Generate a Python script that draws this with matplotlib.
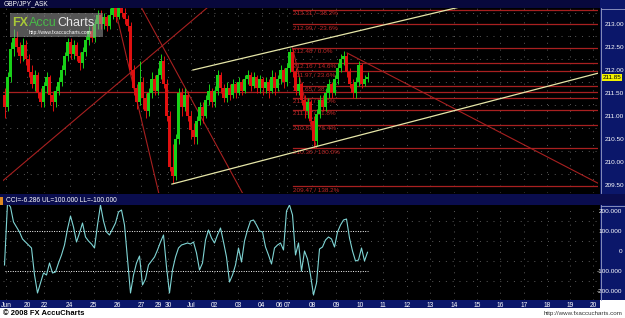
import matplotlib
matplotlib.use("Agg")
import matplotlib.pyplot as plt
import numpy as np
from matplotlib.patches import Rectangle

W, H = 625, 318

# ---------------- data ----------------
opens = [211.45, 211.2, 211.85, 212.45, 212.7, 212.5, 212.3, 212.55, 212.25, 211.95,
         211.7, 211.9, 211.5, 211.3, 211.65, 211.85, 211.45, 211.3, 211.55, 211.75,
         212.0, 212.3, 212.6, 212.35, 212.55, 212.3, 212.15, 212.4, 212.65, 212.85,
         212.7, 213.0, 213.2, 213.0, 213.15, 212.95, 213.2, 213.35, 213.15, 213.4,
         213.25, 213.1, 212.95, 212.0, 211.6, 211.3, 211.75, 211.4, 211.1, 211.5,
         211.8, 211.55, 211.9, 212.2, 211.7, 211.0, 209.9, 209.7, 210.5, 211.5,
         211.2, 211.45, 211.0, 210.7, 210.55, 210.9, 211.2, 211.0, 211.35, 211.55,
         211.3, 211.55, 211.9, 211.6, 211.4, 211.6, 211.45, 211.7, 211.5, 211.75,
         211.55, 211.8, 211.9, 211.65, 211.85, 211.6, 211.8, 211.6, 211.75, 211.55,
         211.85, 211.6, 211.8, 212.0, 211.75, 212.05, 212.4, 211.95, 211.55, 211.7,
         211.35, 211.1, 211.3, 210.9, 210.45, 211.05, 211.35, 211.2, 211.5, 211.7,
         211.5, 211.8, 212.05, 212.25, 212.3, 211.95, 211.7, 211.5, 211.75, 212.1,
         211.7, 211.8]
closes = [211.2, 211.85, 212.45, 212.7, 212.5, 212.3, 212.55, 212.25, 211.95, 211.7,
          211.9, 211.5, 211.3, 211.65, 211.85, 211.45, 211.3, 211.55, 211.75, 212.0,
          212.3, 212.6, 212.35, 212.55, 212.3, 212.15, 212.4, 212.65, 212.85, 212.7,
          213.0, 213.2, 213.0, 213.15, 212.95, 213.2, 213.35, 213.15, 213.4, 213.25,
          213.1, 212.95, 212.0, 211.6, 211.3, 211.75, 211.4, 211.1, 211.5, 211.8,
          211.55, 211.9, 212.2, 211.7, 211.0, 209.9, 209.7, 210.5, 211.5, 211.2,
          211.45, 211.0, 210.7, 210.55, 210.9, 211.2, 211.0, 211.35, 211.55, 211.3,
          211.55, 211.9, 211.6, 211.4, 211.6, 211.45, 211.7, 211.5, 211.75, 211.55,
          211.8, 211.9, 211.65, 211.85, 211.6, 211.8, 211.6, 211.75, 211.55, 211.85,
          211.6, 211.8, 212.0, 211.75, 212.05, 212.4, 211.95, 211.55, 211.7, 211.35,
          211.1, 211.3, 210.9, 210.45, 211.05, 211.35, 211.2, 211.5, 211.7, 211.5,
          211.8, 212.05, 212.25, 212.3, 211.95, 211.7, 211.5, 211.75, 212.1, 211.7,
          211.8, 211.85]
highs = [211.6, 211.95, 212.6, 212.9, 212.85, 212.6, 212.7, 212.65, 212.35, 212.1,
         212.0, 211.95, 211.6, 211.75, 211.95, 211.9, 211.55, 211.65, 211.85, 212.1,
         212.4, 212.7, 212.7, 212.65, 212.6, 212.4, 212.5, 212.75, 212.95, 212.95,
         213.1, 213.3, 213.3, 213.25, 213.2, 213.35, 213.5, 213.45, 213.5, 213.5,
         213.35, 213.2, 213.05, 212.1, 211.7, 212.2, 211.85, 211.5, 211.6, 211.95,
         211.9, 212.05, 212.35, 212.3, 211.8, 211.1, 210.4, 210.6, 211.6, 211.6,
         211.6, 211.55, 211.1, 210.85, 211.0, 211.3, 211.3, 211.45, 211.7, 211.6,
         211.65, 212.0, 211.95, 211.7, 211.75, 211.7, 211.8, 211.75, 211.85, 211.8,
         211.9, 212.0, 211.95, 211.95, 211.9, 211.9, 211.85, 211.85, 211.8, 212.0,
         211.95, 211.9, 212.1, 212.05, 212.15, 212.48, 212.45, 212.05, 211.85, 211.75,
         211.45, 211.4, 211.35, 211.0, 211.15, 211.45, 211.45, 211.6, 211.8, 211.75,
         211.9, 212.15, 212.35, 212.42, 212.38, 212.05, 211.8, 211.85, 212.2, 212.15,
         211.9, 211.95]
lows = [210.95, 211.1, 211.75, 212.3, 212.4, 212.15, 212.2, 212.1, 211.85, 211.6,
        211.55, 211.4, 211.2, 211.2, 211.5, 211.25, 211.1, 211.2, 211.45, 211.65,
        211.9, 212.2, 212.25, 212.25, 212.2, 212.0, 212.05, 212.3, 212.55, 212.6,
        212.6, 212.9, 212.9, 212.9, 212.85, 212.9, 213.1, 213.05, 213.1, 213.15,
        213.0, 212.85, 211.9, 211.45, 211.15, 211.25, 211.15, 210.95, 211.0, 211.4,
        211.45, 211.45, 211.8, 211.6, 210.9, 209.8, 209.54, 209.6, 210.4, 211.0,
        211.1, 210.9, 210.5, 210.4, 210.4, 210.8, 210.85, 210.95, 211.25, 211.2,
        211.2, 211.45, 211.5, 211.3, 211.3, 211.35, 211.4, 211.4, 211.45, 211.45,
        211.5, 211.7, 211.55, 211.6, 211.5, 211.5, 211.45, 211.5, 211.4, 211.5,
        211.45, 211.55, 211.7, 211.6, 211.65, 211.95, 211.85, 211.45, 211.45, 211.25,
        210.95, 210.95, 210.8, 210.30, 210.35, 210.95, 211.1, 211.1, 211.4, 211.4,
        211.45, 211.7, 211.95, 212.1, 211.85, 211.6, 211.4, 211.4, 211.65, 211.6,
        211.65, 211.75]
cci = [-70, 240, 220, 145, 120, 95, 60, 45, 30, 15,
       -120, -210, -160, -110, -120, -60, -110, -105, -60, -20,
       30, 110, 175, 120, 45, 90, 140, 70, 50, 35,
       15, 130, 230, 150, 95, 80, 110, 140, 195, 205,
       130, -40, -210, -120, -60, -25, -170, -140, -70, -50,
       -30, 5, 45, 80, -80, -210, -95, -30, 15, 30,
       35, 40, 35, 45, -10, -95, -60, 55, 105, 65,
       40, 80, 115, 45, -30, -155, -120, -70, 15, -55,
       50, 105, 150, 155, 130, 100, 95, 20, -20, -65,
       15, 30, 40, 5, 200, 230, 180, -20, 40, -100,
       0, -40, -120, -220, -160, 10, 20, 55, 70, 60,
       20, 95, 130, 155, 160, 65, 0, -50, -45, 15,
       -50, -6.286]

date_labels = ["Jun", "20", "22", "24", "25", "26", "27", "29", "30", "Jul", "02", "03",
               "04", "06", "07", "08", "09", "10", "11", "12", "13", "14", "15", "16",
               "17", "18", "19", "20"]
date_pos = [0.5, 7.5, 13.2, 21.8, 29.8, 37.5, 45.5, 51.2, 54.5, 62.2, 69.8, 77.8,
            85.8, 91.5, 94.2, 102.5, 110.5, 118.5, 126.2, 134.2, 141.8, 149.8, 157.5,
            165.2, 173.2, 180.8, 188.5, 196.2]

price_ticks = [209.5, 210.0, 210.5, 211.0, 211.5, 212.0, 212.5, 213.0]
cci_ticks = [200, 100, 0, -100, -200]
cci_tick_labels = ["200.000", "100.000", "0", "-100.000", "-200.000"]

fib_pct = [-38.2, -23.6, 0.0, 14.6, 23.6, 38.2, 50.0, 61.8, 76.4, 100.0, 138.2]
fib_price = [213.31, 212.99, 212.48, 212.16, 211.97, 211.65, 211.39, 211.13, 210.81, 210.30, 209.47]
fib_anchor_x = [96, 104]
fib_anchor_y = [212.48, 210.30]

support_level = 211.52
red_lines = [((-1.5, 209.54), (67.5, 213.35)),
             ((45.2, 213.41), (80.2, 209.22)),
             ((36.8, 213.35), (51.8, 209.22)),
             ((114.2, 212.37), (197.8, 209.54))]
yellow_lines = [((62.8, 212.00), (151.8, 213.37)),
                ((55.8, 209.52), (197.8, 211.93))]

last_price = "211.85"
cci_label = "CCI=-6.286 UL=100.000 LL=-100.000"
title = "GBP/JPY_ASK"

# ---------------- layout helpers ----------------
X_LEFT, X_RIGHT = -0.5, 197.83          # bar units at plot edges
P_TOP, P_BOT = 213 + 16 / 46, 213 - 169 / 46
C_TOP, C_BOT = 230, -245

FONT = ['Liberation Sans', 'DejaVu Sans']
GRID = '#5a5a5a'
RED = '#a82020'
YEL = '#e6e6a8'

fig = plt.figure(figsize=(W / 100, H / 100), dpi=100)
fig.patch.set_facecolor('black')

bg = fig.add_axes([0, 0, 1, 1])
bg.set_xlim(0, W); bg.set_ylim(H, 0); bg.axis('off'); bg.set_zorder(0)


def rect(ax, x0, y0, x1, y1, c, **kw):
    ax.add_patch(Rectangle((x0, y0), x1 - x0, y1 - y0, facecolor=c, edgecolor='none', **kw))


rect(bg, 0, 0, W, 8, '#08083c')
rect(bg, 600, 0, W, 194, '#0b176a')
rect(bg, 0, 194, W, 205, '#0a0d4e')
rect(bg, 600, 205, W, 300, '#0b176a')
rect(bg, 0, 300, 600, 308, '#0b176a')
rect(bg, 0, 308, W, H, 'white')
rect(bg, 600, 300, W, 308, 'white')
rect(bg, 0, 197, 3, 205, '#e08a20')
bg.plot([600.5, 600.5], [8, 193], color='#9aa0c8', lw=0.6)
bg.plot([600.5, W], [8.5, 8.5], color='#9aa0c8', lw=0.6)
bg.plot([600.5, 600.5], [205, 300], color='#9aa0c8', lw=0.6)
bg.plot([600.5, W], [205.5, 205.5], color='#9aa0c8', lw=0.6)

bg.text(4, 4, title, color='white', fontsize=4.8, va='center', ha='left', family=FONT)
bg.text(6, 200.5, cci_label, color='white', fontsize=4.8, va='center', ha='left', family=FONT)
bg.text(3, 313.5, "\u00a9 2008 FX AccuCharts", color='black', fontsize=5.5, va='center',
        ha='left', family=FONT, fontweight='bold')
bg.text(623, 314, "http://www.fxaccucharts.com", color='#333333', fontsize=4.5, va='center',
        ha='right', family=FONT)

# ---------------- main price panel ----------------
ax = fig.add_axes([3 / W, 1 - 193 / H, 595 / W, 185 / H])
ax.set_zorder(1)
ax.set_facecolor('black')
ax.set_xlim(X_LEFT, X_RIGHT)
ax.set_ylim(P_BOT, P_TOP)
for s in ax.spines.values():
    s.set_visible(False)

for g in np.arange(209.75, 213.3, 0.5):
    ax.axhline(g, color=GRID, lw=0.7, ls=(0, (1, 6)), zorder=0)
for d in date_pos:
    ax.axvline(d, color=GRID, lw=0.7, ls=(0, (1, 6)), zorder=0)

# fibonacci levels
fx0 = fib_anchor_x[0]
for p, pct in zip(fib_price, fib_pct):
    ax.plot([fx0, X_RIGHT], [p, p], color=RED, lw=0.9, zorder=1)
    ax.text(fx0 + 0.3, p - 0.03, f"{p:.2f} / {pct:.1f}%", color='#c02828', fontsize=4.6,
            va='top', ha='left', family=FONT, zorder=1)
ax.plot(fib_anchor_x, fib_anchor_y, color=RED, lw=0.8, zorder=1)
ax.axhline(support_level, color=RED, lw=0.9, zorder=1)

for (a, b) in red_lines:
    ax.plot([a[0], b[0]], [a[1], b[1]], color=RED, lw=0.8, zorder=1)
for (a, b) in yellow_lines:
    ax.plot([a[0], b[0]], [a[1], b[1]], color=YEL, lw=0.9, zorder=3)

# candles
x = np.arange(len(closes))
o = np.array(opens); c = np.array(closes); hi = np.array(highs); lo = np.array(lows)
up = c >= o
cols = np.where(up, '#18d018', '#e01010')
ax.vlines(x, lo, hi, colors=cols, lw=0.7, zorder=2)
body = np.where(np.abs(c - o) < 0.02, 0.02, c - o)
ax.bar(x, body, bottom=o, width=0.7, color=cols, linewidth=0, zorder=2)

ax.yaxis.tick_right()
ax.set_yticks(price_ticks)
ax.set_yticklabels([f"{v:.2f}" for v in price_ticks], family=FONT)
ax.set_xticks(date_pos)
ax.set_xticklabels([])
ax.tick_params(axis='y', colors='white', labelsize=4.6, length=0, pad=4.5)
ax.tick_params(axis='x', length=0)

# ---------------- CCI panel ----------------
axc = fig.add_axes([3 / W, 1 - 300 / H, 595 / W, 95 / H])
axc.set_zorder(1)
axc.set_facecolor('black')
axc.set_xlim(X_LEFT, X_RIGHT)
axc.set_ylim(C_BOT, C_TOP)
for s in axc.spines.values():
    s.set_visible(False)
for g in [150, 50, -50, -150]:
    axc.axhline(g, color=GRID, lw=0.7, ls=(0, (1, 6)), zorder=0)
for d in date_pos:
    axc.axvline(d, color=GRID, lw=0.7, ls=(0, (1, 6)), zorder=0)
axc.hlines([100, -100], x[0], x[-1], colors='white', lw=0.7, linestyles=(0, (1, 1.5)), zorder=1)
axc.plot(x, cci, color='#7fd4d4', lw=0.8, zorder=2)

axc.yaxis.tick_right()
axc.set_yticks(cci_ticks)
axc.set_yticklabels(cci_tick_labels, family=FONT)
for t in axc.get_yticklabels():
    t.set_ha('right')
axc.tick_params(axis='y', colors='white', labelsize=4.6, length=0, pad=17.5)
axc.set_xticks(date_pos)
axc.set_xticklabels(date_labels, family=FONT)
axc.tick_params(axis='x', colors='white', labelsize=4.8, length=0, pad=1.5)

# ---------------- foreground decorations ----------------
fg = fig.add_axes([0, 0, 1, 1])
fg.set_xlim(0, W); fg.set_ylim(H, 0); fg.axis('off'); fg.set_zorder(5)
fg.patch.set_visible(False)
rect(fg, 10, 13, 103, 37, '#9a9a9a', alpha=0.55)
fg.text(12, 22.5, "FX", color='#a8c838', fontsize=9, fontweight='bold', va='center',
        ha='left', family=FONT)
fg.text(29, 22.5, "Accu", color='#48b848', fontsize=9, va='center', ha='left', family=FONT)
fg.text(57, 22.5, "Charts", color='#e8e8e8', fontsize=9, va='center', ha='left', family=FONT)
fg.text(29, 32.5, "http://www.fxaccucharts.com", color='white', fontsize=3.5, va='center',
        ha='left', family=FONT)
fg.text(612, 77.5, last_price, color='black', fontsize=4.5, va='center', ha='center',
        family=FONT, bbox=dict(boxstyle='square,pad=0.15', facecolor='#f2f200', edgecolor='none'))

fig.savefig("out.png", dpi=100, facecolor=fig.get_facecolor())
